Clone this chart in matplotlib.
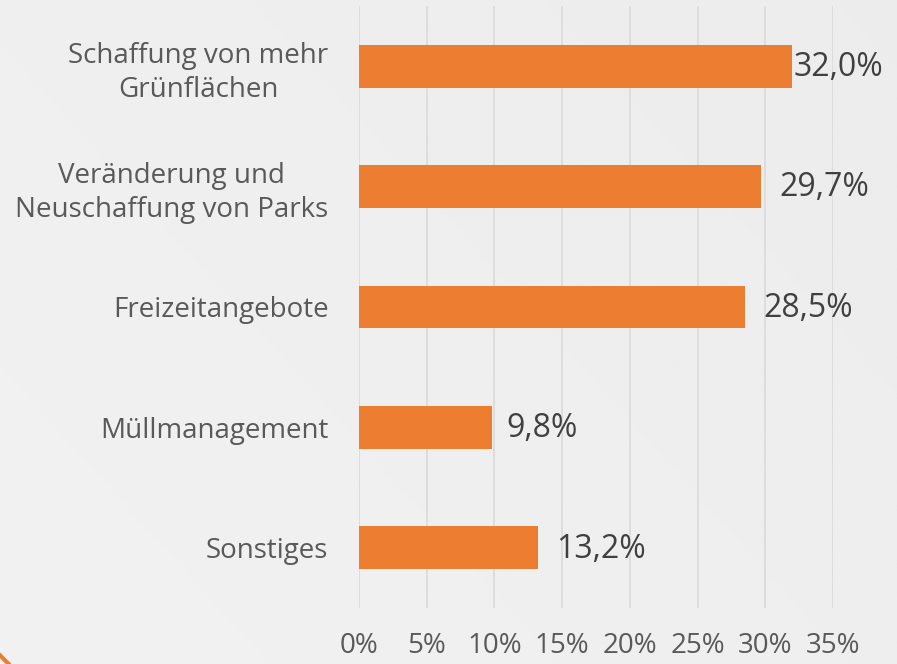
import matplotlib
matplotlib.use("Agg")
import matplotlib.pyplot as plt
import numpy as np

categories = ["Schaffung von mehr\nGrünflächen", "Veränderung und\nNeuschaffung von Parks",
              "Freizeitangebote", "Müllmanagement", "Sonstiges"]
values = [32.0, 29.7, 28.5, 9.8, 13.2]
value_labels = ["32,0%", "29,7%", "28,5%", "9,8%", "13,2%"]
xticks = [0, 5, 10, 15, 20, 25, 30, 35]
xtick_labels = ["0%", "5%", "10%", "15%", "20%", "25%", "30%", "35%"]
label_pad_px = [1, 18, 18, 15, 18]

plt.rcParams['font.family'] = ['Open Sans', 'DejaVu Sans']
W, H = 897, 664
fig = plt.figure(figsize=(W/100, H/100), dpi=100)

# background gradient
bg = fig.add_axes([0, 0, 1, 1], zorder=-10)
grad = np.linspace(0, 1, 256)
X, Y = np.meshgrid(grad, grad)
img = 0.945 - 0.02 * (X * 0.6 + (1 - Y) * 0.4)
bg.imshow(img, cmap='gray', vmin=0, vmax=1, extent=[0, W, 0, H], aspect='auto', origin='upper')
t = np.linspace(0, 1, 20)
bg.plot(-1 + 11 * t, 10 - 11 * t - 1.5 * t * (1 - t), color='#ED7D31', lw=3, solid_capstyle='butt')
bg.set_xlim(0, W); bg.set_ylim(0, H)
bg.axis('off')

ax = fig.add_axes([359/W, 1-608/H, (833-359)/W, (608-6)/H])
ax.set_facecolor('none')
y = np.arange(len(categories))
ax.barh(y, values, height=0.355, color='#ED7D31', zorder=3)
ax.set_ylim(len(categories) - 0.5, -0.5)
ax.set_xlim(0, 35)
ax.set_xticks(xticks)
ax.set_xticklabels(xtick_labels, fontsize=20, color='#595959')
ax.tick_params(axis='x', length=0, pad=17)
ax.set_yticks(y)
ax.set_yticklabels(categories, fontsize=20, color='#595959', multialignment='center',
                   linespacing=1.3)
ax.tick_params(axis='y', length=0, pad=22)
ax.grid(axis='x', color='#dcdcdc', lw=1.3, zorder=0)
for s in ax.spines.values():
    s.set_visible(False)

for yi, v, lab, p in zip(y, values, value_labels, label_pad_px):
    ax.annotate(lab, (v, yi), xytext=(p * 0.72, -1), textcoords='offset points',
                ha='left', va='center', fontsize=23, color='#404040', zorder=4)

fig.savefig('out.png', dpi=100)
